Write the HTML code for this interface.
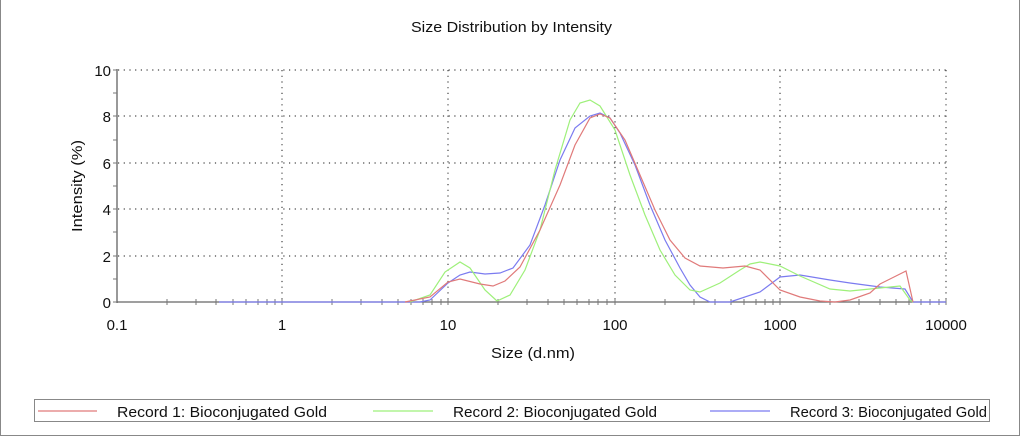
<!DOCTYPE html>
<html><head><meta charset="utf-8"><style>
body{margin:0;background:#fff;width:1024px;height:440px;overflow:hidden;font-family:"Liberation Sans",sans-serif}
</style></head><body>
<svg width="1024" height="440" viewBox="0 0 1024 440" xmlns="http://www.w3.org/2000/svg" font-family="Liberation Sans, sans-serif">
<rect x="0.5" y="-2" width="1019" height="437.5" fill="none" stroke="#888" stroke-width="1"/>
<text x="411" y="32" font-size="15" textLength="201" lengthAdjust="spacingAndGlyphs" fill="#111">Size Distribution by Intensity</text>
<g stroke="#444" stroke-width="1.2" stroke-dasharray="1.2,4.5">
<line x1="118" y1="70" x2="946" y2="70"/><line x1="118" y1="116" x2="946" y2="116"/><line x1="118" y1="163" x2="946" y2="163"/><line x1="118" y1="209" x2="946" y2="209"/><line x1="118" y1="256" x2="946" y2="256"/>
<line x1="282" y1="70" x2="282" y2="302"/><line x1="448" y1="70" x2="448" y2="302"/><line x1="615" y1="70" x2="615" y2="302"/><line x1="780" y1="70" x2="780" y2="302"/><line x1="946" y1="70" x2="946" y2="302"/>
</g>
<line x1="117" y1="69" x2="117" y2="303" stroke="#999" stroke-width="2"/>
<line x1="117" y1="302" x2="946" y2="302" stroke="#666" stroke-width="1.2"/>
<g stroke="#777" stroke-width="1">
<line x1="113" y1="70" x2="117" y2="70"/><line x1="113" y1="93" x2="117" y2="93"/><line x1="113" y1="116" x2="117" y2="116"/><line x1="113" y1="140" x2="117" y2="140"/><line x1="113" y1="163" x2="117" y2="163"/><line x1="113" y1="186" x2="117" y2="186"/><line x1="113" y1="209" x2="117" y2="209"/><line x1="113" y1="232" x2="117" y2="232"/><line x1="113" y1="256" x2="117" y2="256"/><line x1="113" y1="279" x2="117" y2="279"/><line x1="113" y1="302" x2="117" y2="302"/>
</g>
<g stroke="#777" stroke-width="1">
<path d="M167 299v6M196 299v6M216 299v6M233 299v6M246 299v6M258 299v6M267 299v6M275 299v6M282 298v7
M332 299v6M361 299v6M382 299v6M398 299v6M411 299v6M423 299v6M432 299v6M441 299v6M448 298v7
M498 299v6M527 299v6M548 299v6M564 299v6M577 299v6M589 299v6M598 299v6M607 299v6M615 298v7
M665 299v6M694 299v6M715 299v6M731 299v6M744 299v6M756 299v6M765 299v6M773 299v6M780 298v7
M830 299v6M859 299v6M880 299v6M896 299v6M909 299v6M921 299v6M930 299v6M939 299v6M946 298v7"/>
</g>
<g font-size="15" fill="#111" text-anchor="end">
<text x="111" y="76">10</text><text x="111" y="122">8</text><text x="111" y="169">6</text><text x="111" y="215">4</text><text x="111" y="262">2</text><text x="111" y="308">0</text>
</g>
<g font-size="15" fill="#111" text-anchor="middle">
<text x="117" y="330">0.1</text><text x="282" y="330">1</text><text x="448" y="330">10</text><text x="615" y="330">100</text><text x="780" y="330">1000</text><text x="946" y="330">10000</text>
</g>
<text x="491" y="358" font-size="15" textLength="84" lengthAdjust="spacingAndGlyphs" fill="#111">Size (d.nm)</text>
<text transform="translate(82,232) rotate(-90)" font-size="15" textLength="92" lengthAdjust="spacingAndGlyphs" fill="#111">Intensity (%)</text>
<polyline fill="none" stroke="#7b7bf0" stroke-width="1.2" points="219,302 420,302 430,300 448,283 460,275 470,272 485,274 500,273 513,268 530,245 545,205 560,160 575,128 590,116 600,113 610,118 620,133 635,165 650,205 665,240 680,268 690,285 700,297 710,302 730,302 760,292 780,277 800,275 830,280 850,283 880,287 905,289 913,302 946,302"/>
<polyline fill="none" stroke="#9ef07a" stroke-width="1.2" points="410,302 430,295 445,272 460,262 470,268 485,290 497,301 510,295 525,270 540,230 555,170 570,120 580,103 590,100 600,106 615,130 630,175 645,215 660,250 675,275 690,290 700,292 720,283 740,270 750,264 760,262 780,266 800,276 830,289 850,291 870,289 900,286 910,300 913,302"/>
<polyline fill="none" stroke="#e07a7a" stroke-width="1.2" points="405,302 430,297 448,282 460,279 480,284 493,286 505,281 520,267 540,230 560,185 575,145 590,118 600,114 610,118 625,140 640,175 655,210 670,240 685,258 700,266 723,268 745,266 760,270 780,290 800,297 820,301 835,302 850,300 870,293 880,284 906,271 913,302"/>
<rect x="34.5" y="399.5" width="955" height="22" fill="none" stroke="#888"/>
<line x1="38" y1="411" x2="97" y2="411" stroke="#e07a7a" stroke-width="1.2"/>
<line x1="373" y1="411" x2="433" y2="411" stroke="#9ef07a" stroke-width="1.2"/>
<line x1="710" y1="411" x2="770" y2="411" stroke="#7b7bf0" stroke-width="1.2"/>
<g font-size="15" fill="#111">
<text x="117" y="417" textLength="210" lengthAdjust="spacingAndGlyphs">Record 1: Bioconjugated Gold</text>
<text x="453" y="417" textLength="204" lengthAdjust="spacingAndGlyphs">Record 2: Bioconjugated Gold</text>
<text x="790" y="417" textLength="197" lengthAdjust="spacingAndGlyphs">Record 3: Bioconjugated Gold</text>
</g>
</svg>
</body></html>
